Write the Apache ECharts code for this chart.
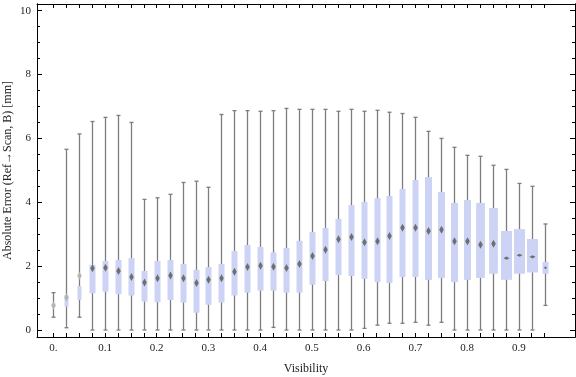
<!DOCTYPE html>
<html>
<head>
<meta charset="utf-8">
<script src="https://cdn.jsdelivr.net/npm/echarts@6/dist/echarts.min.js"></script>
<style>
html,body{margin:0;padding:0;background:#fff;}
#chart{width:576px;height:377px;}
</style>
</head>
<body>
<div id="chart"></div>
<script>
// ---- data ----
var visibility = [0, 0.025, 0.05, 0.075, 0.1, 0.125, 0.15, 0.175, 0.2, 0.225,
  0.25, 0.275, 0.3, 0.325, 0.35, 0.375, 0.4, 0.425, 0.45, 0.475,
  0.5, 0.525, 0.55, 0.575, 0.6, 0.625, 0.65, 0.675, 0.7, 0.725,
  0.75, 0.775, 0.8, 0.825, 0.85, 0.875, 0.9, 0.925, 0.95];
var whiskerLow = [0.40, 0.07, 0.40, 0, 0, 0, 0, 0, 0, 0,
  0, 0, 0, 0, 0, 0, 0, 0.08, 0, 0,
  0, 0, 0, 0, 0.05, 0.15, 0.21, 0.21, 0.24, 0.15,
  0.24, 0, 0, 0, 0, 0, 0, 0, 0.77];
var quartile1 = [0.70, 0.73, 0.94, 1.15, 1.20, 1.12, 1.08, 0.89, 0.87, 0.94,
  0.86, 0.54, 0.79, 0.86, 1.08, 1.17, 1.23, 1.23, 1.17, 1.17,
  1.42, 1.53, 1.72, 1.69, 1.60, 1.50, 1.47, 1.66, 1.66, 1.57,
  1.63, 1.50, 1.57, 1.63, 1.76, 1.57, 1.76, 1.80, 1.76];
var medians = [0.77, 1.02, 1.70, 1.93, 1.95, 1.85, 1.66, 1.49, 1.62, 1.71,
  1.62, 1.47, 1.57, 1.62, 1.82, 1.97, 2.01, 1.98, 1.94, 2.07,
  2.32, 2.51, 2.84, 2.91, 2.75, 2.78, 2.94, 3.20, 3.20, 3.10,
  3.14, 2.78, 2.78, 2.67, 2.70, 2.25, 2.34, 2.29, 1.95];
var quartile3 = [0.86, 1.10, 1.38, 2.04, 2.16, 2.19, 2.25, 1.85, 2.16, 2.19,
  2.07, 1.88, 1.97, 2.07, 2.47, 2.66, 2.60, 2.43, 2.57, 2.79,
  3.07, 3.19, 3.48, 3.91, 4.01, 4.13, 4.20, 4.42, 4.70, 4.79,
  4.32, 3.98, 4.07, 3.98, 3.82, 3.10, 3.16, 2.85, 2.13];
var whiskerHigh = [1.17, 5.66, 6.14, 6.53, 6.66, 6.72, 6.50, 4.09, 4.14, 4.25,
  4.62, 4.66, 4.47, 6.75, 6.87, 6.87, 6.85, 6.87, 6.94, 6.91,
  6.91, 6.91, 6.85, 6.91, 6.85, 6.88, 6.82, 6.78, 6.66, 6.22,
  6.00, 5.72, 5.47, 5.44, 5.16, 5.03, 4.59, 4.50, 3.32];
var xTickLabels = [0, 0.1, 0.2, 0.3, 0.4, 0.5, 0.6, 0.7, 0.8, 0.9];
var yTickLabels = [0, 2, 4, 6, 8, 10];
var yMinorTicks = [0.5, 1, 1.5, 2.5, 3, 3.5, 4.5, 5, 5.5, 6.5, 7, 7.5, 8.5, 9, 9.5];
var xMinorTicks = visibility;

// ---- build series data ----
var boxData = visibility.map(function (v, i) {
  return [v, whiskerLow[i], quartile1[i], medians[i], quartile3[i], whiskerHigh[i], i];
});

var XMIN = -0.0315, XMAX = 1.0087, YMIN = -0.22, YMAX = 10.21;
var FONT = '"Liberation Serif", "DejaVu Serif", serif';

function boxWidthPx(i) {
  if (i <= 2) return 4;
  if (i <= 28) return 6;
  if (i <= 32) return 7;
  if (i <= 34) return 8.8;
  if (i <= 37) return 11;
  return 6;
}

function renderItem(params, api) {
  var x = api.value(0), i = api.value(6);
  var pLow = api.coord([x, api.value(1)]);
  var pQ1 = api.coord([x, api.value(2)]);
  var pMed = api.coord([x, api.value(3)]);
  var pQ3 = api.coord([x, api.value(4)]);
  var pHigh = api.coord([x, api.value(5)]);
  var cx = Math.round(pLow[0]) + 0.5;
  var w = boxWidthPx(i);
  var cap = 2;
  var lineStyle = { stroke: '#7d7d7d', lineWidth: 1.3, fill: null };
  var faint = i === 0;
  var children = [
    { type: 'line', shape: { x1: cx, y1: pLow[1], x2: cx, y2: pHigh[1] }, style: lineStyle },
    { type: 'line', shape: { x1: cx - cap, y1: pLow[1], x2: cx + cap, y2: pLow[1] }, style: lineStyle },
    { type: 'line', shape: { x1: cx - cap, y1: pHigh[1], x2: cx + cap, y2: pHigh[1] }, style: lineStyle },
    { type: 'rect', shape: { x: cx - w / 2, y: pQ3[1], width: w, height: pQ1[1] - pQ3[1] },
      style: { fill: faint ? '#e4e7f8' : '#cdd3f5' } }
  ];
  var mc = i <= 2 ? '#b5b5b5' : '#6f6f6f';
  var hw, hh;
  if (i >= 35 && i <= 37) { hw = 3; hh = 1.6; }
  else if (i === 38) { hw = 1.5; hh = 1.5; }
  else { hw = 2.3; hh = 4; }
  children.push({
    type: 'polygon',
    shape: { points: [[cx, pMed[1] - hh], [cx + hw, pMed[1]], [cx, pMed[1] + hh], [cx - hw, pMed[1]]] },
    style: { fill: mc }
  });
  return { type: 'group', children: children };
}

var axisLineStyle = { show: true, onZero: false, lineStyle: { color: '#000', width: 1 } };

function xAxisDef(pos, ticks, len, withLabels) {
  return {
    type: 'value', position: pos, min: XMIN, max: XMAX,
    axisLine: axisLineStyle,
    splitLine: { show: false },
    axisTick: { show: true, inside: true, length: len, customValues: ticks, lineStyle: { color: '#000', width: 1 } },
    axisLabel: withLabels ? {
      show: true, inside: false, margin: 6, customValues: xTickLabels,
      fontFamily: FONT, fontSize: 11, color: '#222',
      formatter: function (v) { return Math.abs(v) < 1e-9 ? '0.' : (Math.round(v * 10) / 10).toFixed(1); }
    } : { show: false }
  };
}
function yAxisDef(pos, ticks, len, withLabels) {
  return {
    type: 'value', position: pos, min: YMIN, max: YMAX,
    axisLine: axisLineStyle,
    splitLine: { show: false },
    axisTick: { show: true, inside: true, length: len, customValues: ticks, lineStyle: { color: '#000', width: 1 } },
    axisLabel: withLabels ? {
      show: true, inside: false, margin: 6, customValues: yTickLabels,
      fontFamily: FONT, fontSize: 11, color: '#222',
      formatter: function (v) { return String(Math.round(v)); }
    } : { show: false }
  };
}

var xAxes = [
  xAxisDef('bottom', xMinorTicks, 4, true),
  xAxisDef('top', xMinorTicks, 4, false)
];
xAxes[0].name = 'Visibility';
xAxes[0].nameLocation = 'middle';
xAxes[0].nameGap = 26;
xAxes[0].nameMoveOverlap = false;
xAxes[0].nameTextStyle = { fontFamily: FONT, fontSize: 12, color: '#222' };

var yAxes = [
  yAxisDef('left', yTickLabels, 5, true),
  yAxisDef('left', yMinorTicks, 3, false),
  yAxisDef('right', yTickLabels, 5, false),
  yAxisDef('right', yMinorTicks, 3, false)
];
yAxes[0].name = 'Absolute Error (Ref\u2192Scan, B) [mm]';
yAxes[0].nameLocation = 'middle';
yAxes[0].nameGap = 23;
yAxes[0].nameRotate = 90;
yAxes[0].nameMoveOverlap = false;
yAxes[0].nameTextStyle = { fontFamily: FONT, fontSize: 12, color: '#222' };

var chart = echarts.init(document.getElementById('chart'), null, { renderer: 'canvas' });
chart.setOption({
  animation: false,
  backgroundColor: '#fff',
  grid: { left: 37, right: 1, top: 4, bottom: 40, containLabel: false, outerBoundsMode: 'none' },
  xAxis: xAxes,
  yAxis: yAxes,
  series: [{
    type: 'custom',
    xAxisIndex: 0, yAxisIndex: 0,
    renderItem: renderItem,
    encode: { x: 0, y: [1, 2, 3, 4, 5] },
    data: boxData,
    clip: false
  }]
});
</script>
</body>
</html>
